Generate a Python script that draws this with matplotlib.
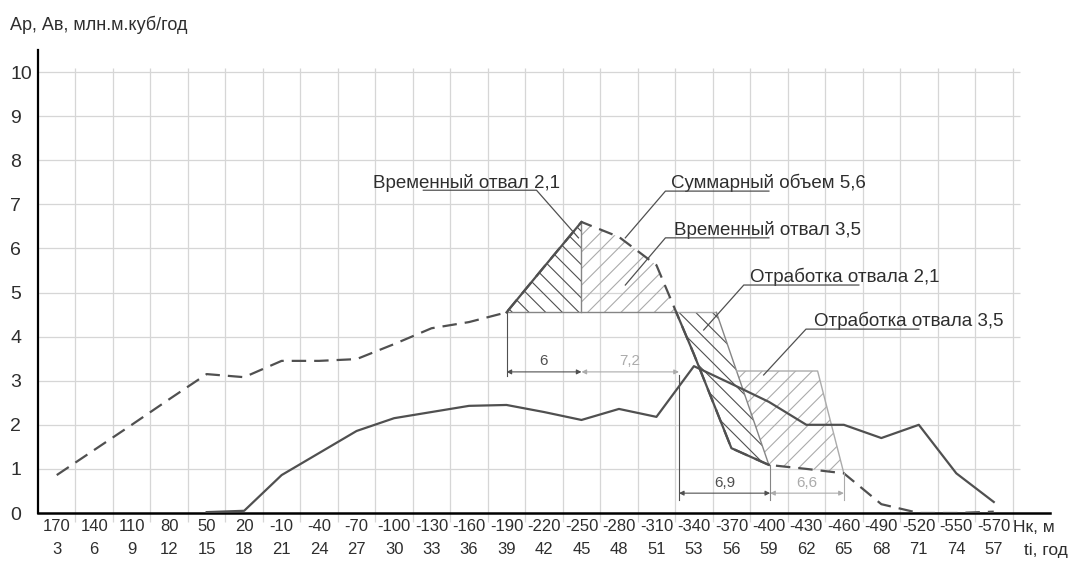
import numpy as np
import matplotlib.pyplot as plt

plt.rcParams['font.family'] = ['Liberation Sans', 'DejaVu Sans']
plt.rcParams['hatch.linewidth'] = 0.8

# подписи оси X: отметка горизонта Нк, м и год ti
hk = [170, 140, 110, 80, 50, 20, -10, -40, -70, -100, -130, -160, -190,
      -220, -250, -280, -310, -340, -370, -400, -430, -460, -490, -520, -550, -570]
ti = [3, 6, 9, 12, 15, 18, 21, 24, 27, 30, 33, 36, 39,
      42, 45, 48, 51, 53, 56, 59, 62, 65, 68, 71, 74, 57]

# Ар (пунктир) и Ав (сплошная), млн.м.куб/год
ap = [0.86, 1.43, 2.0, 2.58, 3.15, 3.08, 3.45, 3.45, 3.49, 3.83, 4.19, 4.33, 4.55,
      5.58, 6.6, 6.26, 5.62, 3.6, 1.47, 1.09, 1.0, 0.9, 0.2, 0.0, 0.0, 0.03]
av = [np.nan, np.nan, np.nan, np.nan, 0.02, 0.05, 0.86, 1.36, 1.86, 2.15, 2.29, 2.43,
      2.45, 2.29, 2.11, 2.36, 2.18, 3.33, 2.93, 2.52, 2.0, 2.0, 1.7, 2.0, 0.9, 0.25]

# размеры по времени (лет), начиная с года 39
t_start = 39
dims = [6, 7.2, 6.9, 6.6]
dims_txt = ['6', '7,2', '6,9', '6,6']

# границы площадок отработки
otr21_top_right = 17.6
otr35_level = 3.22
otr35_right = 20.3

dark = '#505050'
mid = '#858585'
light = '#ababab'
grid = '#d6d6d6'
txt_c = '#2e2e2e'

x = np.arange(len(hk))
ap = np.array(ap)
av = np.array(av)
base = ap[12]
# пересечение спада кривой с уровнем временного отвала
xc = np.interp(base, ap[17:15:-1], x[17:15:-1])
# границы размеров в позициях оси X
jd = np.interp(np.cumsum([t_start] + dims), ti[:22], x[:22])

fig = plt.figure(figsize=(10.78, 5.71), dpi=100)
ax = fig.add_axes([38 / 1078, 1 - 513 / 571, 1012 / 1078, 463 / 571])
ax.set_xlim(-0.5, 26.5)
ax.set_ylim(0, 10.5)

# сетка
ax.hlines(np.arange(1, 11), -0.5, 25.7, color=grid, lw=0.9, zorder=0)
ax.vlines(x + 0.5, -0.2, 10.1, color=grid, lw=0.9, zorder=0, clip_on=False)

# временный отвал 2,1
ax.fill_between(x[12:15], base, ap[12:15], facecolor='none', edgecolor=dark,
                hatch='\\\\', lw=0, zorder=1)
# временный отвал 3,5
xs = np.r_[x[14:17], xc]
ys = np.r_[ap[14:17], base]
ax.fill_between(xs, base, ys, facecolor='none', edgecolor=light,
                hatch='//', lw=0, zorder=1)
ax.plot([x[12], xc], [base, base], color=mid, lw=1, zorder=2)
ax.plot([x[14], x[14]], [base, ap[14]], color=mid, lw=1, zorder=2)

# отработка отвала 2,1
p3x = [xc, otr21_top_right, x[19], x[18], x[17]]
p3y = [base, base, ap[19], ap[18], ap[17]]
ax.fill(p3x, p3y, facecolor='none', edgecolor=dark, hatch='\\\\', lw=0, zorder=1)
ax.plot([xc, otr21_top_right], [base, base], color=light, lw=1, zorder=2)
ax.plot([otr21_top_right, x[19]], [base, ap[19]], color=mid, lw=1, zorder=2)

# отработка отвала 3,5
xl = np.interp(otr35_level, [ap[19], base], [x[19], otr21_top_right])
ye = np.interp(jd[4], x, ap)
p4x = [xl, otr35_right, jd[4], x[21], x[20], x[19]]
p4y = [otr35_level, otr35_level, ye, ap[21], ap[20], ap[19]]
ax.fill(p4x, p4y, facecolor='none', edgecolor=light, hatch='//', lw=0, zorder=1)
ax.plot([xl, otr35_right, jd[4]], [otr35_level, otr35_level, ye], color=light, lw=1, zorder=2)

# кривые
ax.plot(x, ap, color=dark, lw=1.6, linestyle=(0, (6.5, 3.6)), zorder=3)
ax.plot(x[12:15], ap[12:15], color=dark, lw=1.6, zorder=3)
ax.plot(np.r_[xc, x[17:20]], np.r_[base, ap[17:20]], color=dark, lw=1.6, zorder=3)
ax.plot(x, av, color=dark, lw=1.6, zorder=3)

# размерные линии
dim_y = [3.2, 3.2, 0.45, 0.45]
dim_c = [dark, light, dark, light]
for k in range(4):
    ax.annotate('', xy=(jd[k + 1], dim_y[k]), xytext=(jd[k], dim_y[k]),
                arrowprops=dict(arrowstyle='<|-|>', color=dim_c[k], lw=0.8,
                                mutation_scale=7, shrinkA=0, shrinkB=0), zorder=4)
    ax.text((jd[k] + jd[k + 1]) / 2, dim_y[k] + 0.08, dims_txt[k], color=dim_c[k],
            ha='center', va='bottom', fontsize=11, zorder=4)
ax.plot([jd[0], jd[0]], [base, 3.1], color=dark, lw=0.8, zorder=4)
ax.plot([jd[2], jd[2]], [3.13, 0.3], color=dark, lw=0.8, zorder=4)
ax.plot([jd[3], jd[3]], [np.interp(jd[3], x, ap), 0.3], color=mid, lw=0.8, zorder=4)
ax.plot([jd[4], jd[4]], [ye, 0.3], color=light, lw=0.8, zorder=4)

# выноски с подписями
notes = [
    ('Временный отвал 2,1', 8.44, 7.38, [9.78, 12.8, 13.92], [7.32, 7.32, 6.24]),
    ('Суммарный объем 5,6', 16.4, 7.36, [19.0, 16.24, 15.17], [7.30, 7.30, 6.24]),
    ('Временный отвал 3,5', 16.46, 6.3, [19.0, 16.24, 15.17], [6.24, 6.24, 5.17]),
    ('Отработка отвала 2,1', 18.5, 5.23, [21.4, 18.33, 17.26], [5.17, 5.17, 4.15]),
    ('Отработка отвала 3,5', 20.2, 4.23, [23.0, 19.99, 18.86], [4.17, 4.17, 3.13]),
]
for txt, tx, ty, lx, ly in notes:
    ax.text(tx, ty, txt, ha='left', va='baseline', fontsize=13.5, color=txt_c, zorder=5)
    ax.plot(lx, ly, color=dark, lw=0.9, zorder=5)

# оси
for s in ['top', 'right']:
    ax.spines[s].set_visible(False)
ax.spines['left'].set_linewidth(1.6)
ax.spines['bottom'].set_linewidth(1.8)
ax.set_yticks(range(0, 11))
ax.tick_params(axis='y', length=0, pad=20, labelsize=14, labelcolor=txt_c)
for lab in ax.get_yticklabels():
    lab.set_horizontalalignment('left')
ax.set_xticks(x, [f'{h}\n{t}' for h, t in zip(hk, ti)])
ax.tick_params(axis='x', length=0, pad=4, labelsize=12, labelcolor=txt_c)
for lab in ax.get_xticklabels():
    lab.set_linespacing(1.7)

ax.annotate('Нк, м', xy=(25.5, 0), xycoords=('data', 'axes fraction'),
            xytext=(0, -14), textcoords='offset pixels', ha='left', va='center',
            fontsize=12.5, color=txt_c)
ax.annotate('ti, год', xy=(25.8, 0), xycoords=('data', 'axes fraction'),
            xytext=(0, -38), textcoords='offset pixels', ha='left', va='center',
            fontsize=12.5, color=txt_c)
fig.text(10 / 1078, 1 - 25 / 571, 'Ар, Ав, млн.м.куб/год', ha='left', va='center',
         fontsize=13, color=txt_c)

fig.savefig('out.png', dpi=100)
